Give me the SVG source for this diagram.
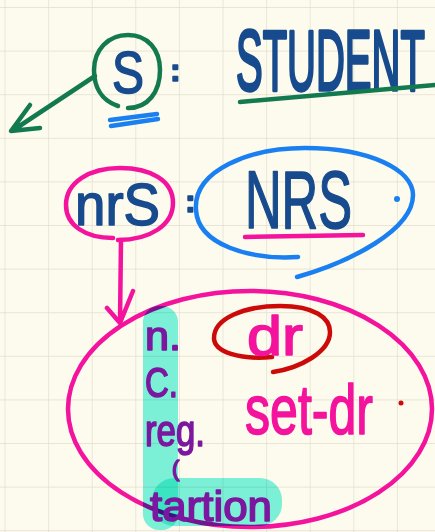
<svg xmlns="http://www.w3.org/2000/svg" width="435" height="532" viewBox="0 0 435 532">
<style>
.ink{fill:none;stroke-linecap:round;stroke-linejoin:round;stroke-width:4.5}
.g{stroke:#137a4f}.b{stroke:#1a7ff0}.p{stroke:#f4139d}.r{stroke:#cc0a0a}
text{font-family:"Liberation Sans","DejaVu Sans",sans-serif;stroke-width:1.6;stroke-linejoin:round}
.db{fill:#174b8e;stroke:#174b8e}.pk{fill:#f4139d;stroke:#f4139d}.pu{fill:#7c179f;stroke:#7c179f}
.hl{fill:#7cf4e6;mix-blend-mode:multiply}
</style>
<defs>
<pattern id="grid" patternUnits="userSpaceOnUse" x="4.5" y="7" width="43.6" height="43.6">
<path d="M0,0 H43.6 M0,0 V43.6" fill="none" stroke="#e2dece" stroke-width="1.4"/>
</pattern>
</defs>
<rect width="435" height="532" fill="#fdfbee"/>
<rect width="435" height="532" fill="url(#grid)"/>

<g id="connectors">
<path class="ink g" d="M95,76 L12,131 M30,105 L11,131 L40,128"/>
<path class="ink p" d="M121,240 L120,322 M107,308 L120,323 L133,291"/>
</g>

<g id="student-node">
<path class="ink g" d="M118,106 C100,100 94,85 94,70 C94,50 108,35 128,35 C148,35 160,50 160,70 C160,92 148,108 128,108"/>
<text class="db" x="112" y="93" font-size="60" textLength="32" lengthAdjust="spacingAndGlyphs">S</text>
<path class="ink b" d="M110,120 L157,114 M111,126 L158,119"/>
<text class="db" x="170" y="81" font-size="32" font-weight="bold">:</text>
<text class="db" transform="translate(236,90) scale(1,2.15)" x="0" y="0" font-size="40" stroke-width="1">STUDENT</text>
<path class="ink g" d="M240,102 C310,96 380,90 435,85"/>
</g>

<g id="nrs-node">
<path class="ink p" d="M113,238 C85,238 66,225 66,205 C66,182 90,168 120,168 C150,168 173,180 173,203 C173,225 150,240 118,240"/>
<text class="db" x="75" y="225" font-size="60" textLength="85" lengthAdjust="spacingAndGlyphs">nrS</text>
<text class="db" x="185" y="212" font-size="32" font-weight="bold">:</text>
<path class="ink b" d="M298,257 C250,260 198,245 196,210 C193,170 250,148 305,148 C370,148 413,170 413,195 C413,230 350,262 297,277"/>
<text class="db" x="245" y="228" font-size="82" textLength="107" lengthAdjust="spacingAndGlyphs">NRS</text>
<path class="ink p" d="M245,237 L363,235"/>
<circle cx="397" cy="199" r="3" fill="#1a7ff0"/>
</g>

<g id="object-node">
<ellipse class="ink p" cx="250" cy="409" rx="182" ry="118"/>
<rect class="hl" x="143" y="306" width="35" height="224" rx="16"/>
<rect class="hl" x="152" y="478" width="130" height="48" rx="22"/>
<text class="pu" x="145" y="350" font-size="40" textLength="36" lengthAdjust="spacingAndGlyphs">n.</text>
<text class="pu" x="145" y="397" font-size="42" textLength="33" lengthAdjust="spacingAndGlyphs">C.</text>
<text class="pu" x="145" y="446" font-size="44" textLength="60" lengthAdjust="spacingAndGlyphs">reg.</text>
<text class="pu" x="172" y="476" font-size="22">(</text>
<text class="pu" x="150" y="521" font-size="42" textLength="122" lengthAdjust="spacingAndGlyphs">tartion</text>
<path class="ink r" d="M272,357 C240,360 214,352 214,338 C214,318 245,306 280,306 C315,306 330,318 330,332 C330,352 300,368 273,372"/>
<text class="pk" x="247" y="355" font-size="55" textLength="56" lengthAdjust="spacingAndGlyphs">dr</text>
<text class="pk" x="245" y="434" font-size="70" textLength="128" lengthAdjust="spacingAndGlyphs">set-dr</text>
<circle cx="401" cy="403" r="2.5" fill="#cc0a0a"/>
</g>
</svg>
